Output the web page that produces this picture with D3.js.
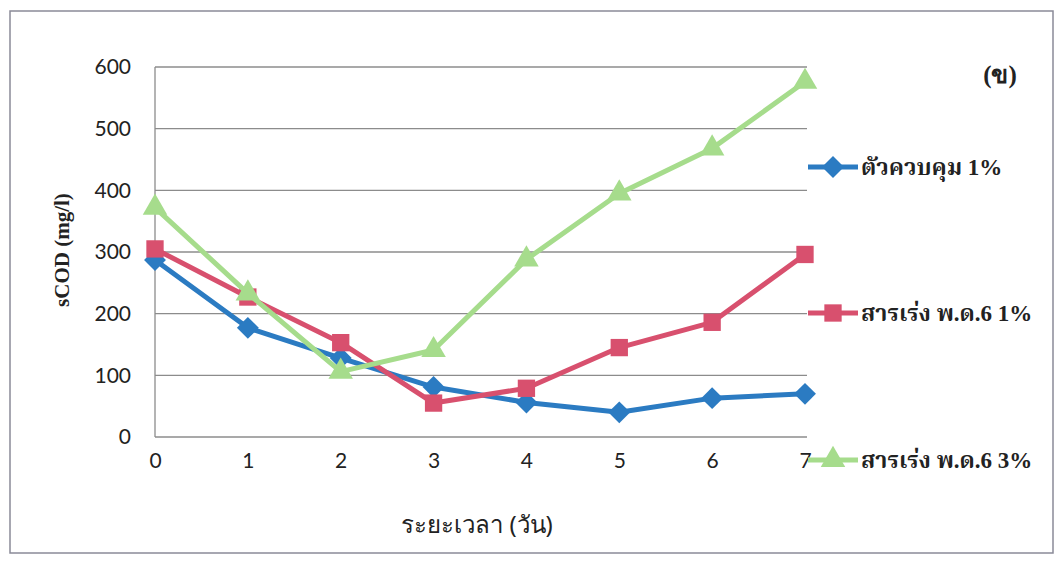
<!DOCTYPE html>
<html><head><meta charset="utf-8">
<script src="https://cdn.jsdelivr.net/npm/d3@7"></script>
<style>
html,body{margin:0;padding:0;background:#fff;}
svg{display:block;}
</style></head>
<body>
<svg id="chart" width="1059" height="561"></svg>
<script>
const days = [0,1,2,3,4,5,6,7];
const yTicks = [0,100,200,300,400,500,600];
const seriesNames = ["ตัวควบคุม 1%","สารเร่ง พ.ด.6 1%","สารเร่ง พ.ด.6 3%"];
const control1 = [287,177,128,81,56,40,63,70];
const pd6_1 = [305,227,153,55,79,145,186,296];
const pd6_3 = [372,233,106,141,288,395,468,576];
const seriesColors = ["#2b7bc2","#d8506e","#a6dc8c"];
const seriesShapes = ["diamond","square","triangle"];
const xTitle = "ระยะเวลา (วัน)";
const yTitle = "sCOD (mg/l)";
const panelLabel = "(ข)";

const svg = d3.select("#chart");
const W = 1059, H = 561;
const m = {left:155, right:1059-805, top:67, bottom:561-437};

// outer frame
svg.append("rect").attr("x",10).attr("y",11).attr("width",1043).attr("height",542)
  .attr("fill","none").attr("stroke","#8a8a98").attr("stroke-width",1.5);

const x = d3.scaleLinear().domain([0,7]).range([m.left, W-m.right]);
const y = d3.scaleLinear().domain([0,600]).range([H-m.bottom, m.top]);

// gridlines
svg.append("g").selectAll("line").data(yTicks).join("line")
  .attr("x1",x(0)).attr("x2",x(7)+2)
  .attr("y1",d=>y(d)).attr("y2",d=>y(d))
  .attr("stroke","#8c8c8c").attr("stroke-width",1.3);
// left axis line
svg.append("line").attr("x1",x(0)).attr("x2",x(0)).attr("y1",y(600)).attr("y2",y(0))
  .attr("stroke","#8c8c8c").attr("stroke-width",1.3);

// y axis tick labels
const yAxis = d3.axisLeft(y).tickValues(yTicks).tickSize(0).tickPadding(24);
const gy = svg.append("g").attr("transform",`translate(${x(0)},0)`).call(yAxis);
gy.select(".domain").remove();
gy.selectAll("text").attr("font-family","Lato, 'Open Sans', sans-serif").attr("font-size",21).attr("fill","#222");

// x axis tick labels
const xAxis = d3.axisBottom(x).tickValues(days).tickFormat(d3.format("d")).tickSize(0).tickPadding(16);
const gx = svg.append("g").attr("transform",`translate(0,${y(0)})`).call(xAxis);
gx.select(".domain").remove();
gx.selectAll("text").attr("font-family","Lato, 'Open Sans', sans-serif").attr("font-size",21).attr("fill","#222");

// titles
svg.append("text").attr("x",477).attr("y",533).attr("text-anchor","middle")
  .attr("font-family","'Noto Sans', sans-serif").attr("font-size",24).attr("fill","#222").text(xTitle);
svg.append("text").attr("transform","translate(69,250) rotate(-90)").attr("text-anchor","middle")
  .attr("font-family","'Liberation Serif', serif").attr("font-weight","bold").attr("font-size",21).attr("fill","#222").text(yTitle);
svg.append("text").attr("x",1000).attr("y",83).attr("text-anchor","middle")
  .attr("font-family","'Liberation Serif', serif").attr("font-weight","bold").attr("font-size",25).attr("fill","#222").text(panelLabel);

const allSeries = [control1, pd6_1, pd6_3];
const symType = {diamond:d3.symbolSquare, square:d3.symbolSquare, triangle:d3.symbolTriangle};
const symSize = {diamond:240, square:300, triangle:260};
const symRot = {diamond:45, square:0, triangle:0};
const line = d3.line().x((d,i)=>x(days[i])).y(d=>y(d));

allSeries.forEach((vals,k)=>{
  const s = seriesShapes[k];
  const g = svg.append("g");
  g.append("path").datum(vals).attr("d",line).attr("fill","none")
    .attr("stroke",seriesColors[k]).attr("stroke-width",5).attr("stroke-linejoin","round");
  g.selectAll("path.pt").data(vals).join("path").attr("class","pt")
    .attr("transform",(d,i)=>`translate(${x(days[i])},${y(d)}) rotate(${symRot[s]})`)
    .attr("d",d3.symbol().type(symType[s]).size(symSize[s]))
    .attr("fill",seriesColors[k]);
});

// legend
const legendY = [167,313,460];
seriesNames.forEach((name,k)=>{
  const s = seriesShapes[k];
  const g = svg.append("g").attr("transform",`translate(808,${legendY[k]})`);
  g.append("line").attr("x1",0).attr("x2",50).attr("y1",0).attr("y2",0)
    .attr("stroke",seriesColors[k]).attr("stroke-width",5);
  g.append("path").attr("transform",`translate(25,0) rotate(${symRot[s]})`)
    .attr("d",d3.symbol().type(symType[s]).size(symSize[s]))
    .attr("fill",seriesColors[k]);
  g.append("text").attr("x",53).attr("y",8)
    .attr("font-family","'Liberation Serif', 'Noto Serif Thai', 'Noto Sans Thai', serif").attr("font-weight","bold")
    .attr("font-size",23).attr("fill","#222").text(name);
});
</script>
</body></html>
